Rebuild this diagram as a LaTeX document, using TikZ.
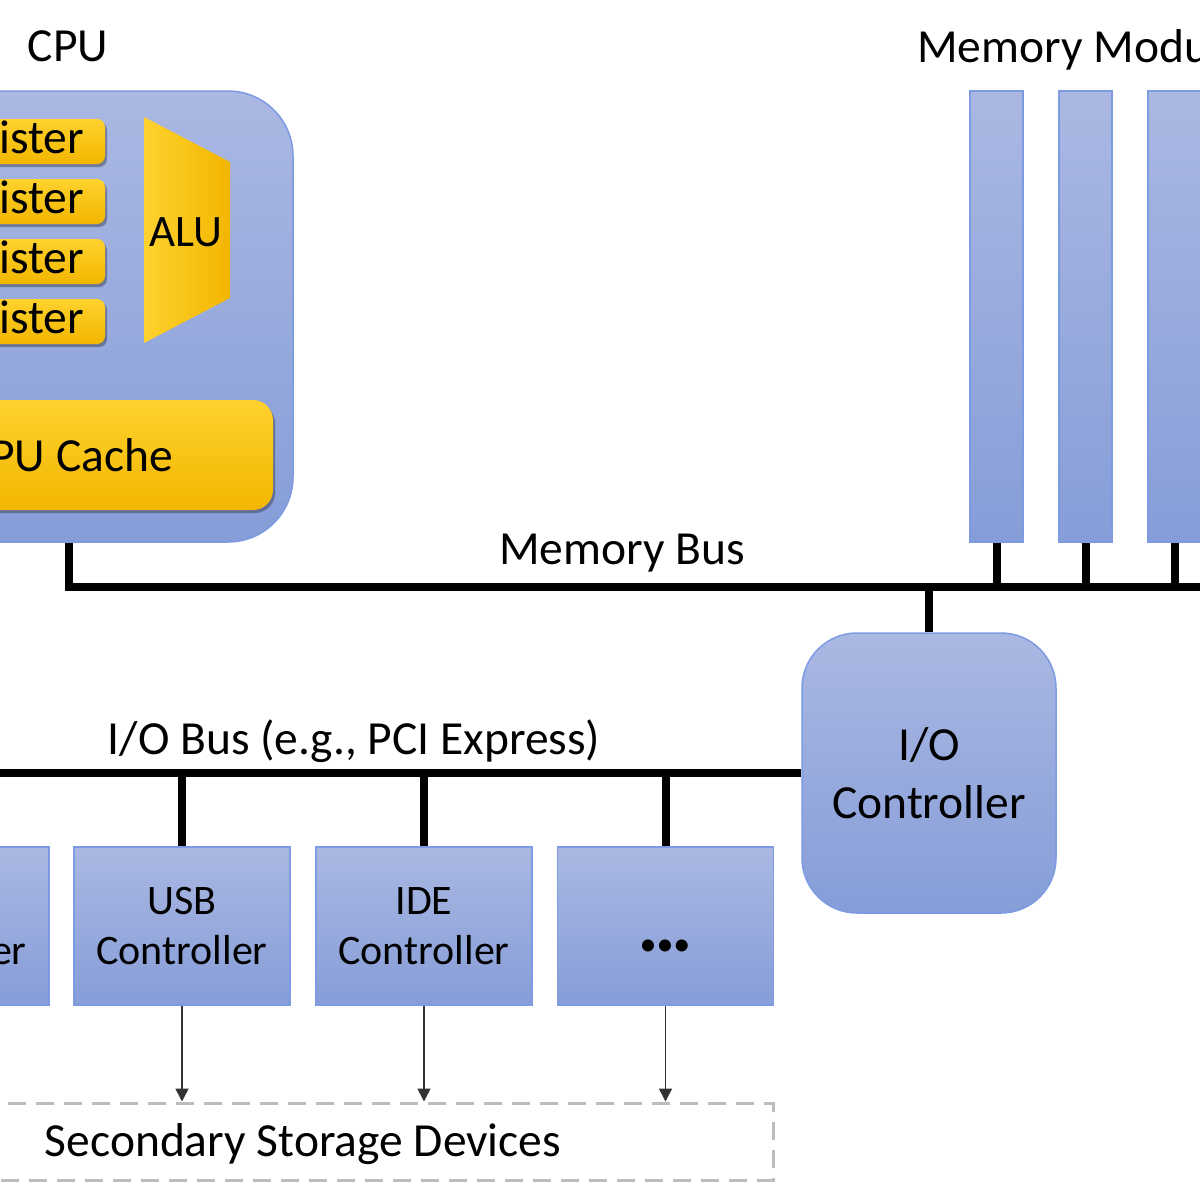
\documentclass[tikz,border=0pt]{standalone}
\usepackage{fontspec}
\setmainfont{Carlito}
\usetikzlibrary{arrows.meta,shadows}
\definecolor{blueT}{HTML}{AAB8E2}
\definecolor{blueB}{HTML}{869DD8}
\definecolor{blueE}{HTML}{7C9BE2}
\definecolor{yelT}{HTML}{FFD22E}
\definecolor{yelB}{HTML}{F2B600}
\definecolor{dashG}{HTML}{BDBDBD}
\definecolor{arrG}{HTML}{333333}
\tikzset{
  big/.style={font=\fontsize{47.5}{58}\selectfont},
  small/.style={font=\fontsize{42}{50}\selectfont},
  bluebox/.style={draw=blueE, line width=1.5pt, top color=blueT, bottom color=blueB, inner sep=0pt, align=center},
  yelbox/.style={top color=yelT, bottom color=yelB, inner sep=0pt,
     drop shadow={shadow xshift=2pt, shadow yshift=-3pt, opacity=0.3, fill=black}},
  bus/.style={line width=8pt, draw=black},
  arr/.style={line width=1.5pt, draw=arrG, -{Triangle[length=13pt,width=13pt]}},
  dashbox/.style={draw=dashG, line width=3pt, dash pattern=on 18pt off 10pt, inner sep=0pt}
}
\begin{document}
\begin{tikzpicture}[x=1pt,y=-1pt]
\useasboundingbox (0,0) rectangle (1200,1200);
\clip (0,0) rectangle (1200,1200);
\fill[white] (0,0) rectangle (1200,1200);

% CPU
\node[bluebox, rounded corners=65pt, minimum width=448pt, minimum height=451pt] (cpu) at (69,316.5) {};
\node[big, anchor=base] (cpulbl) at (68,61) {CPU};
\foreach \y/\n in {141.5/r1,201.5/r2,261.5/r3,321.5/r4}
  \node[yelbox, big, rounded corners=8pt, minimum width=198pt, minimum height=45pt] (\n) at (6,\y) {Register};
\shade[left color=yelT, right color=yelB]
  (144,117) -- (230,162) -- (230,298) -- (144,343) -- cycle;
\node[font=\fontsize{45}{52}\selectfont] (alu) at (186,232) {ALU};
\node[yelbox, big, rounded corners=20pt, minimum width=408pt, minimum height=110pt] (cache) at (69,455) {CPU Cache};

% Memory modules
\node[big, anchor=base west, inner sep=0pt] (memlbl) at (917,62) {Memory Modules};
\foreach \x/\n in {996.5/m1,1085.5/m2,1174.5/m3}
  \node[bluebox, minimum width=53pt, minimum height=451pt] (\n) at (\x,316.5) {};

% Memory bus
\coordinate (mbL) at (69,587);
\coordinate (mbR) at (1230,587);
\draw[bus] (cpu.south -| cache.center) -- (mbL) -- (mbR);
\node[big, anchor=base] (mblbl) at (622,564) {Memory Bus};
\foreach \n in {m1,m2,m3}
  \draw[bus] (\n.south) -- (\n.south |- mbL);

% I/O controller
\node[bluebox, big, rounded corners=55pt, minimum width=254pt, minimum height=280pt] (io) at (929,773) {I/O\\Controller};
\draw[bus] (io.north) -- (io.north |- mbL);

% I/O bus
\coordinate (iobL) at (-400,773);
\draw[bus] (iobL) -- (io.west);
\node[big, anchor=base] (ioblbl) at (354,754) {I/O Bus (e.g., PCI Express)};

% Controllers
\node[bluebox, small, minimum width=216pt, minimum height=158pt] (c0) at (-59,926) {SATA\\Controller};
\node[bluebox, small, minimum width=216pt, minimum height=158pt] (c1) at (182,926) {USB\\Controller};
\node[bluebox, small, minimum width=216pt, minimum height=158pt] (c2) at (424,926) {IDE\\Controller};
\node[bluebox, small, minimum width=216pt, minimum height=158pt] (c3) at (665.5,926) {};
\node[font=\fontsize{34}{40}\selectfont] (dots) at (665,948) {•••};
\foreach \n in {c0,c1,c2,c3}
  \draw[bus] (\n.north) -- (\n.north |- iobL);

% Secondary storage
\node[dashbox, minimum width=940pt, minimum height=77pt] (ssd) at (303,1141.5) {};
\node[big] (ssdlbl) at (303,1144) {Secondary Storage Devices};
\foreach \n in {c1,c2,c3}
  \draw[arr] (\n.south) -- (\n.south |- ssd.north);
\end{tikzpicture}
\end{document}
